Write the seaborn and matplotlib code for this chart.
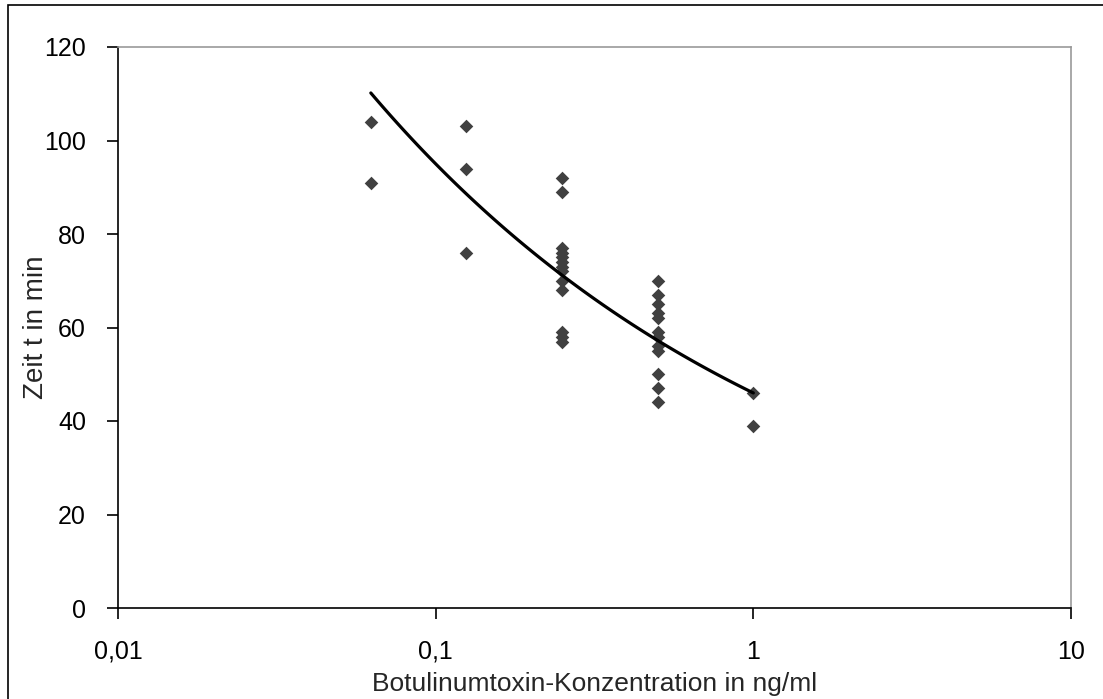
import numpy as np
import pandas as pd
import matplotlib
matplotlib.use("Agg")
import matplotlib.pyplot as plt
from matplotlib.patches import Rectangle
from matplotlib.ticker import FixedLocator, FixedFormatter
import seaborn as sns

# Measured incubation times (min) per toxin concentration (ng/ml)
conc_00625 = [104, 91]
conc_0125 = [103, 94, 76]
conc_025 = [92, 89, 77, 76, 75, 74, 73, 72, 70, 68, 59, 58, 57]
conc_05 = [70, 67, 65, 63, 62, 59, 58, 56, 55, 50, 47, 44]
conc_1 = [46, 39]

concentrations = [0.0625, 0.125, 0.25, 0.5, 1.0]
groups = [conc_00625, conc_0125, conc_025, conc_05, conc_1]

# Power trendline y = a * x^b
trend_a = 46.0
trend_b = -0.315

x_ticks = [0.01, 0.1, 1, 10]
x_tick_labels = ["0,01", "0,1", "1", "10"]
y_ticks = [0, 20, 40, 60, 80, 100, 120]

df = pd.DataFrame({
    "conc": np.concatenate([[c] * len(g) for c, g in zip(concentrations, groups)]),
    "zeit": np.concatenate(groups),
})

trend_x = np.logspace(np.log10(min(concentrations)), np.log10(max(concentrations)), 100)
trend = pd.DataFrame({"conc": trend_x, "zeit": trend_a * trend_x ** trend_b})

sns.set_style("white")
plt.rcParams["font.family"] = ["Liberation Sans", "DejaVu Sans"]

fig = plt.figure(figsize=(11.03, 6.99), dpi=100)
ax = fig.add_axes([118 / 1103, 91 / 699, (1071 - 118) / 1103, (608 - 47) / 699])

sns.scatterplot(data=df, x="conc", y="zeit", marker="D", s=48, color="#404040",
                linewidth=0, ax=ax, zorder=3)
sns.lineplot(data=trend, x="conc", y="zeit", color="black", linewidth=2.3, ax=ax, zorder=4)

ax.set_xscale("log")
ax.set_xlim(0.01, 10)
ax.set_ylim(0, 120)
ax.xaxis.set_major_locator(FixedLocator(x_ticks))
ax.xaxis.set_major_formatter(FixedFormatter(x_tick_labels))
ax.xaxis.set_minor_locator(FixedLocator([]))
ax.set_yticks(y_ticks)

ax.tick_params(axis="both", which="major", direction="out", length=8, width=1.2,
               color="black", labelsize=18, labelcolor="black")
ax.tick_params(axis="x", bottom=True, pad=15)
ax.tick_params(axis="y", left=True, pad=15)

for side in ["left", "bottom"]:
    ax.spines[side].set_color("black")
    ax.spines[side].set_linewidth(1.2)
for side in ["top", "right"]:
    ax.spines[side].set_visible(True)
    ax.spines[side].set_color("#999999")
    ax.spines[side].set_linewidth(1.2)

ax.set_xlabel("Botulinumtoxin-Konzentration in ng/ml", fontsize=19)
ax.set_ylabel("Zeit t in min", fontsize=20)
ax.xaxis.set_label_coords(0.5, -0.114)
ax.yaxis.set_label_coords(-0.072, 0.5)

# Frame around the whole chart
fig.patches.append(Rectangle((8 / 1103, -0.05), 1.2, (699 - 5) / 699 + 0.05,
                             transform=fig.transFigure, fill=False,
                             edgecolor="black", linewidth=1.2))

fig.savefig("out.png", dpi=100)
